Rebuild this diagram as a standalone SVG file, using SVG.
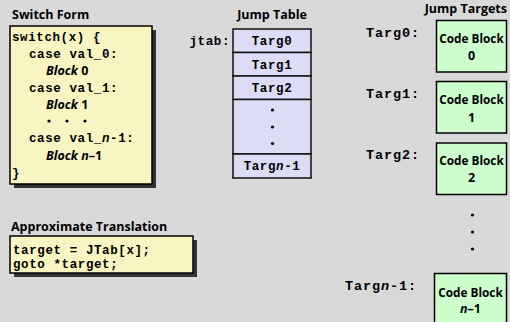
<svg xmlns="http://www.w3.org/2000/svg" width="510" height="322" viewBox="0 0 510 322">
  <style>
    .title { font-family: "Open Sans", "Liberation Sans", sans-serif; font-weight: bold; font-size: 12.5px; fill: #000; }
    .mono { font-family: "Liberation Mono", "Courier New", monospace; font-weight: bold; font-size: 12.5px; letter-spacing: 0.6px; fill: #000; }
    .lbl { font-family: "Liberation Mono", "Courier New", monospace; font-weight: bold; font-size: 13.5px; letter-spacing: 0.9px; fill: #000; }
    .blk { font-family: "Open Sans", "Liberation Sans", sans-serif; font-weight: bold; font-size: 12.5px; fill: #000; }
    .cb { font-size: 11.8px; }
    .it { font-style: italic; }
    .shadow { fill: #333333; }
    .ybox { fill: #f8f5c2; stroke: #000; stroke-width: 1.5; }
    .jrow { fill: #dcdcf4; stroke: #111; stroke-width: 1.5; }
    .cbox { fill: #ccffcc; stroke: #000; stroke-width: 1.5; }
    .dot { fill: #000; }
  </style>

  <rect x="0" y="0" width="510" height="322" fill="#d9d9d9"/>

  <!-- switch statement -->
  <g id="switch-form">
    <text class="title" x="12" y="19">Switch Form</text>
    <rect class="shadow" x="14" y="30" width="142" height="158"/>
    <rect class="ybox" x="10" y="26" width="142" height="158"/>
    <text class="mono" x="12" y="41">switch(x) {</text>
    <text class="mono" x="29" y="58">case val_0:</text>
    <text class="blk" x="46" y="75"><tspan class="it">Block</tspan> 0</text>
    <text class="mono" x="29" y="92">case val_1:</text>
    <text class="blk" x="46" y="109"><tspan class="it">Block</tspan> 1</text>
    <circle class="dot" cx="49" cy="121" r="1.6"/>
    <circle class="dot" cx="67" cy="121" r="1.6"/>
    <circle class="dot" cx="85" cy="121" r="1.6"/>
    <text class="mono" x="29" y="142">case val_<tspan class="it">n</tspan>-1:</text>
    <text class="blk" x="46" y="160"><tspan class="it">Block n</tspan>–1</text>
    <text class="mono" x="12" y="177">}</text>
  </g>

  <!-- translated form -->
  <g id="translation">
    <text class="title" x="11" y="231">Approximate Translation</text>
    <rect class="shadow" x="14" y="240" width="183" height="37"/>
    <rect class="ybox" x="10" y="236" width="183" height="37"/>
    <text class="mono" x="13" y="253.5">target = JTab[x];</text>
    <text class="mono" x="13" y="267.5">goto *target;</text>
  </g>

  <!-- jump table -->
  <g id="jump-table">
    <text class="title" x="272" y="19" text-anchor="middle">Jump Table</text>
    <text class="mono" x="230" y="45" text-anchor="end">jtab:</text>
    <rect class="jrow" x="233" y="29" width="78" height="23.5"/>
    <rect class="jrow" x="233" y="52.5" width="78" height="23.5"/>
    <rect class="jrow" x="233" y="76" width="78" height="23.5"/>
    <rect class="jrow" x="233" y="99.5" width="78" height="54.5"/>
    <rect class="jrow" x="233" y="154" width="78" height="24"/>
    <text class="mono" x="272" y="45" text-anchor="middle">Targ0</text>
    <text class="mono" x="272" y="68.5" text-anchor="middle">Targ1</text>
    <text class="mono" x="272" y="92" text-anchor="middle">Targ2</text>
    <circle class="dot" cx="272.5" cy="110" r="1.6"/>
    <circle class="dot" cx="272.5" cy="127" r="1.6"/>
    <circle class="dot" cx="272.5" cy="143.5" r="1.6"/>
    <text class="mono" x="272" y="170" text-anchor="middle">Targ<tspan class="it">n</tspan>-1</text>
  </g>

  <!-- jump targets -->
  <g id="jump-targets">
    <text class="title" x="507" y="13" text-anchor="end">Jump Targets</text>
  </g>
  <g id="target-0">
    <text class="lbl" x="366" y="37">Targ0:</text>
    <rect class="cbox" x="436.5" y="20.5" width="70" height="51.5"/>
    <text class="blk cb" x="471.5" y="43" text-anchor="middle">Code Block</text>
    <text class="blk" x="471.5" y="60" text-anchor="middle">0</text>
  </g>
  <g id="target-1">
    <text class="lbl" x="366" y="98">Targ1:</text>
    <rect class="cbox" x="436.5" y="81.5" width="70" height="51.5"/>
    <text class="blk cb" x="471.5" y="104" text-anchor="middle">Code Block</text>
    <text class="blk" x="471.5" y="121.5" text-anchor="middle">1</text>
  </g>
  <g id="target-2">
    <text class="lbl" x="366" y="159">Targ2:</text>
    <rect class="cbox" x="436.5" y="143" width="70" height="51.5"/>
    <text class="blk cb" x="471.5" y="165" text-anchor="middle">Code Block</text>
    <text class="blk" x="471.5" y="182" text-anchor="middle">2</text>
  </g>
  <g id="target-dots">
    <circle class="dot" cx="472.5" cy="215" r="1.6"/>
    <circle class="dot" cx="472.5" cy="232" r="1.6"/>
    <circle class="dot" cx="472.5" cy="249" r="1.6"/>
  </g>
  <g id="target-n-1">
    <text class="lbl" x="345" y="290">Targ<tspan class="it">n</tspan>-1:</text>
    <rect class="cbox" x="434.5" y="273.5" width="72" height="52"/>
    <text class="blk cb" x="470.5" y="297" text-anchor="middle">Code Block</text>
    <text class="blk" x="470.5" y="313" text-anchor="middle"><tspan class="it">n</tspan>–1</text>
  </g>

  <!-- no connectors drawn between nodes -->
  <g id="connectors"/>
</svg>
